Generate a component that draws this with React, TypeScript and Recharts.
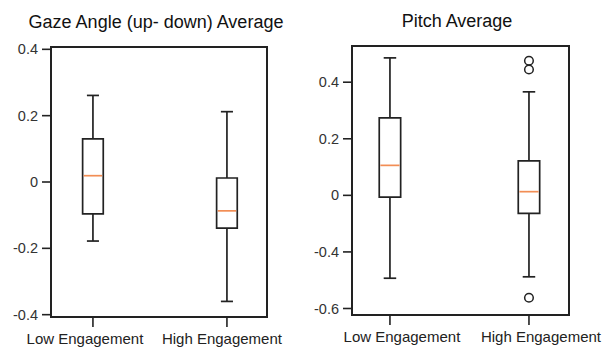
import { ComposedChart, XAxis, YAxis, ReferenceArea, ReferenceLine, Scatter } from "recharts"

const categories = ["Low Engagement", "High Engagement"]
const positions = [1, 2]

// gaze angle (up-down) average
const gazeMin = [-0.178, -0.36]
const gazeQ1 = [-0.096, -0.139]
const gazeMedian = [0.019, -0.087]
const gazeQ3 = [0.13, 0.012]
const gazeMax = [0.261, 0.212]
const gazeOutliers: number[][] = [[], []]
const gazeTicks = [0.4, 0.2, 0, -0.2, -0.4]
const gazeTickLabels = ["0.4", "0.2", "0", "-0.2", "-0.4"]

// pitch average
const pitchMin = [-0.293, -0.288]
const pitchQ1 = [-0.006, -0.064]
const pitchMedian = [0.106, 0.013]
const pitchQ3 = [0.274, 0.122]
const pitchMax = [0.486, 0.366]
const pitchOutliers: number[][] = [[], [0.476, 0.445, -0.362]]
const pitchTicks = [0.4, 0.2, 0, -0.2, -0.4]
const pitchTickLabels = ["0.4", "0.2", "0", "-0.4", "-0.6"]

const FONT = "'Liberation Sans', Arial, sans-serif"
const INK = "#222"
const MEDIAN = "#f28e55"

type PanelProps = {
  left: number
  width: number
  margin: { top: number; right: number; bottom: number; left: number }
  xDomain: [number, number]
  yDomain: [number, number]
  mins: number[]
  q1s: number[]
  medians: number[]
  q3s: number[]
  maxs: number[]
  outliers: number[][]
  ticks: number[]
  tickLabels: string[]
  labelShift: number[]
}

function BoxPanel(p: PanelProps) {
  const boxHalf = 0.077
  const capHalf = 0.045
  const chartData = positions.map((x, i) => ({ x, name: categories[i] }))
  const outlierData = positions.flatMap((x, i) => p.outliers[i].map((y) => ({ x, y })))

  return (
    <div style={{ position: "absolute", left: p.left, top: 0 }}>
      <ComposedChart width={p.width} height={350} data={chartData} margin={p.margin}>
        <XAxis
          type="number"
          dataKey="x"
          domain={p.xDomain}
          allowDataOverflow
          ticks={positions}
          height={33}
          axisLine={false}
          tickSize={10}
          tickLine={{ stroke: INK, strokeWidth: 1.6 }}
          tick={(t: any) => {
            const i = positions.indexOf(t.payload.value)
            return (
              <text
                x={t.x + p.labelShift[i]}
                y={t.y + 15}
                textAnchor="middle"
                fontFamily={FONT}
                fontSize={15}
                fill="#222"
              >
                {categories[i]}
              </text>
            )
          }}
        />
        <YAxis
          type="number"
          domain={p.yDomain}
          allowDataOverflow
          ticks={p.ticks}
          width={40}
          axisLine={false}
          tickSize={9}
          tickMargin={4}
          tickLine={{ stroke: INK, strokeWidth: 1.6 }}
          tick={{ fontFamily: FONT, fontSize: 14.5, fill: "#333" }}
          tickFormatter={(v: number) => p.tickLabels[p.ticks.findIndex((t) => Math.abs(t - v) < 1e-9)]}
        />
        {/* plot frame */}
        <ReferenceArea
          x1={p.xDomain[0]}
          x2={p.xDomain[1]}
          y1={p.yDomain[0]}
          y2={p.yDomain[1]}
          fill="none"
          stroke={INK}
          strokeWidth={2}
        />
        {positions.map((x, i) => (
          <ReferenceArea
            key={"box" + i}
            x1={x - boxHalf}
            x2={x + boxHalf}
            y1={p.q1s[i]}
            y2={p.q3s[i]}
            fill="#fff"
            fillOpacity={1}
            stroke={INK}
            strokeWidth={1.7}
          />
        ))}
        {positions.map((x, i) => (
          <ReferenceLine key={"wu" + i} segment={[{ x, y: p.q3s[i] }, { x, y: p.maxs[i] }]} stroke={INK} strokeWidth={1.7} />
        ))}
        {positions.map((x, i) => (
          <ReferenceLine key={"wl" + i} segment={[{ x, y: p.q1s[i] }, { x, y: p.mins[i] }]} stroke={INK} strokeWidth={1.7} />
        ))}
        {positions.map((x, i) => (
          <ReferenceLine
            key={"cu" + i}
            segment={[{ x: x - capHalf, y: p.maxs[i] }, { x: x + capHalf, y: p.maxs[i] }]}
            stroke={INK}
            strokeWidth={1.7}
          />
        ))}
        {positions.map((x, i) => (
          <ReferenceLine
            key={"cl" + i}
            segment={[{ x: x - capHalf, y: p.mins[i] }, { x: x + capHalf, y: p.mins[i] }]}
            stroke={INK}
            strokeWidth={1.7}
          />
        ))}
        {positions.map((x, i) => (
          <ReferenceLine
            key={"md" + i}
            segment={[{ x: x - boxHalf + 0.008, y: p.medians[i] }, { x: x + boxHalf - 0.008, y: p.medians[i] }]}
            stroke={MEDIAN}
            strokeWidth={1.7}
          />
        ))}
        <Scatter
          data={outlierData}
          dataKey="y"
          isAnimationActive={false}
          shape={(s: any) => <circle cx={s.cx} cy={s.cy} r={4.3} fill="none" stroke={INK} strokeWidth={1.5} />}
        />
      </ComposedChart>
    </div>
  )
}

export default function App() {
  return (
    <div style={{ position: "absolute", left: 0, top: 0, width: 614, height: 350, background: "#fff", overflow: "hidden" }}>
      <BoxPanel
        left={0}
        width={300}
        margin={{ top: 47, right: 33, bottom: 0, left: 11 }}
        xDomain={[0.687, 2.299]}
        yDomain={[-0.407, 0.407]}
        mins={gazeMin}
        q1s={gazeQ1}
        medians={gazeMedian}
        q3s={gazeQ3}
        maxs={gazeMax}
        outliers={gazeOutliers}
        ticks={gazeTicks}
        tickLabels={gazeTickLabels}
        labelShift={[-8, -5]}
      />
      <BoxPanel
        left={300}
        width={314}
        margin={{ top: 46, right: 45, bottom: 2, left: 12 }}
        xDomain={[0.727, 2.288]}
        yDomain={[-0.423, 0.528]}
        mins={pitchMin}
        q1s={pitchQ1}
        medians={pitchMedian}
        q3s={pitchQ3}
        maxs={pitchMax}
        outliers={pitchOutliers}
        ticks={pitchTicks}
        tickLabels={pitchTickLabels}
        labelShift={[12, 12]}
      />
      <svg width={614} height={40} style={{ position: "absolute", left: 0, top: 0 }}>
        <text x={156} y={28} textAnchor="middle" fontFamily={FONT} fontSize={18} fill="#111">
          Gaze Angle (up- down) Average
        </text>
        <text x={457} y={27} textAnchor="middle" fontFamily={FONT} fontSize={18} fill="#111">
          Pitch Average
        </text>
      </svg>
    </div>
  )
}
